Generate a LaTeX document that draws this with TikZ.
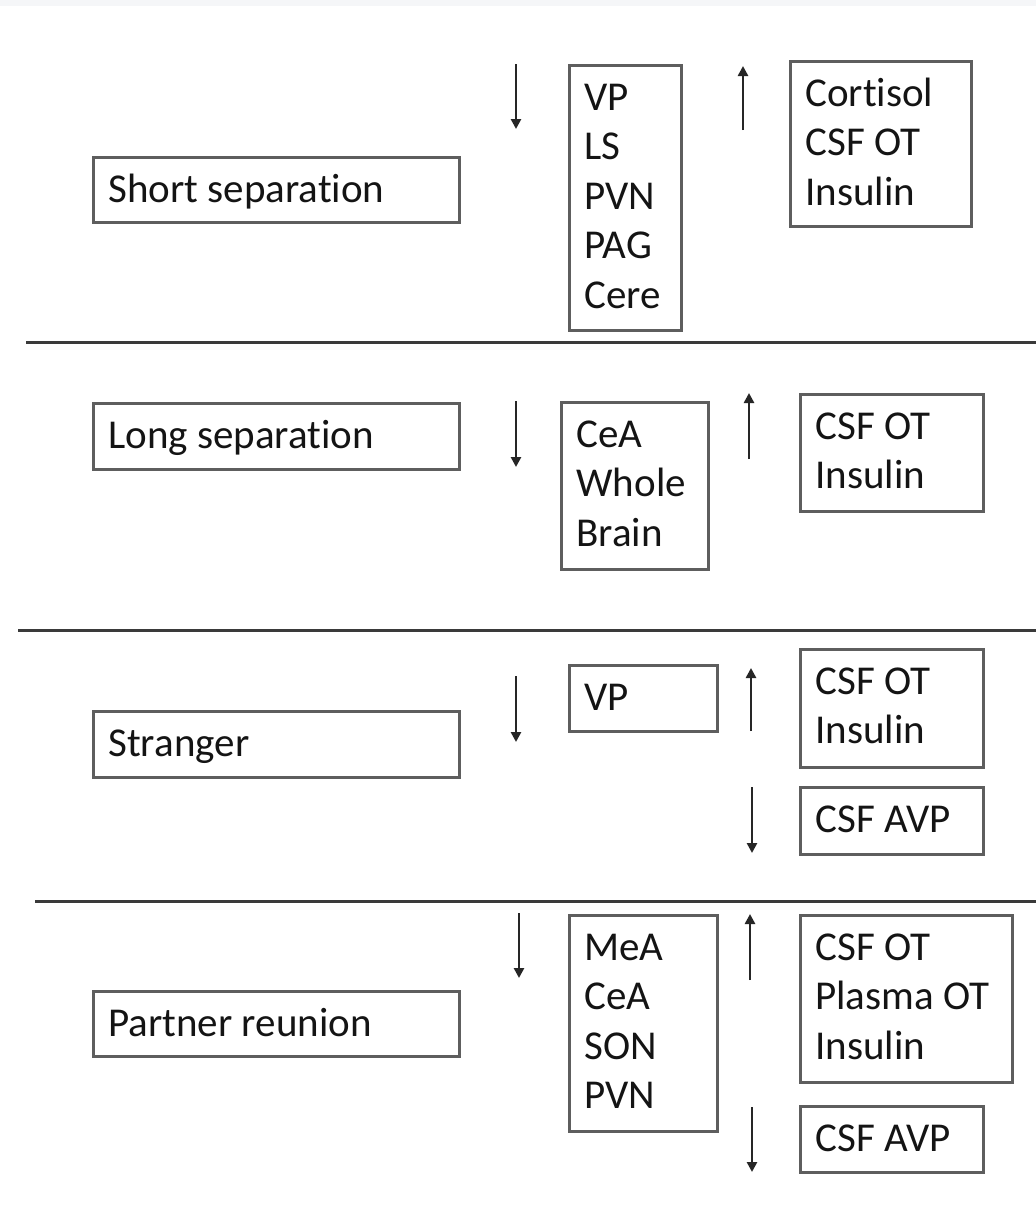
\documentclass[tikz,border=0pt]{standalone}
\usepackage{fontspec}
\setmainfont[Ligatures=NoCommon]{Carlito}
\usetikzlibrary{arrows.meta}
\definecolor{boxgray}{HTML}{5E5E5E}
\definecolor{rulegray}{HTML}{3A3A3A}
\definecolor{stripgray}{HTML}{F5F6F8}
\definecolor{inkcol}{HTML}{141414}
\newcommand{\boxtext}[3]{\parbox[c][#2pt][t]{#1pt}{\vspace*{10.4pt}\raggedright\leftskip=15pt\strut#3}}
\tikzset{
  panel/.style={draw=boxgray, line width=2.8pt, inner sep=0pt, anchor=north west,
    font=\fontsize{41}{49.5}\selectfont, text=inkcol},
  arr/.style={line width=2.5pt, draw=black!85, -{Triangle[length=10pt,width=10pt]}},
  sep/.style={line width=3pt, draw=rulegray}
}
\begin{document}
\begin{tikzpicture}[x=1pt,y=-1pt]
        \useasboundingbox (0,0) rectangle (1036,1213);
        \fill[white] (0,0) rectangle (1036,1213);
        \fill[stripgray] (0,0) rectangle (1036,6);
        % Draw the condition boxes
        \node[panel] (short) at (92,156) {\boxtext{366}{65}{Short separation}};
        \node[panel] (long) at (92,402) {\boxtext{366}{66}{Long separation}};
        \node[panel] (stranger) at (92,710) {\boxtext{366}{66}{Stranger}};
        \node[panel] (reunion) at (92,990) {\boxtext{366}{65}{Partner reunion}};
        % Draw the brain region boxes
        \node[panel] (shortdown) at (568,64) {\boxtext{112}{265}{VP\\LS\\PVN\\PAG\\Cere}};
        \node[panel] (longdown) at (560,401) {\boxtext{147}{167}{CeA\\Whole\\Brain}};
        \node[panel] (strangerdown) at (568,664) {\boxtext{148}{66}{VP}};
        \node[panel] (reuniondown) at (568,914) {\boxtext{148}{216}{MeA\\CeA\\SON\\PVN}};
        % Draw the peripheral boxes
        \node[panel] (shortup) at (789,60) {\boxtext{181}{165}{Cortisol\\CSF OT\\Insulin}};
        \node[panel] (longup) at (799,393) {\boxtext{183}{117}{CSF OT\\Insulin}};
        \node[panel] (strangerup) at (799,648) {\boxtext{183}{118}{CSF OT\\Insulin}};
        \node[panel] (strangeravp) at (799,786) {\boxtext{183}{67}{CSF AVP}};
        \node[panel] (reunionup) at (799,914) {\boxtext{212}{167}{CSF OT\\Plasma OT\\Insulin}};
        \node[panel] (reunionavp) at (799,1105) {\boxtext{183}{66}{CSF AVP}};
        % Draw the up and down arrows
        \foreach \n/\x/\ya/\yb in {sd/516/64/129, su/743/130/66, ld/516/401/467, lu/749/459/393,
            td/516/676/742, tu/751/731/668, ta/752/787/853,
            rd/519/913/978, ru/750/980/914, ra/752/1107/1172}{
          \coordinate (\n0) at (\x,\ya);
          \coordinate (\n1) at (\x,\yb);
          \draw[arr] (\n0) -- (\n1);
        }
        % Draw the separating lines
        \coordinate (sepa0) at (26,342);  \coordinate (sepa1) at (1036,342);
        \coordinate (sepb0) at (18,630);  \coordinate (sepb1) at (1036,630);
        \coordinate (sepc0) at (35,901);  \coordinate (sepc1) at (1036,901);
        \draw[sep] (sepa0) -- (sepa1);
        \draw[sep] (sepb0) -- (sepb1);
        \draw[sep] (sepc0) -- (sepc1);
\end{tikzpicture}
\end{document}
